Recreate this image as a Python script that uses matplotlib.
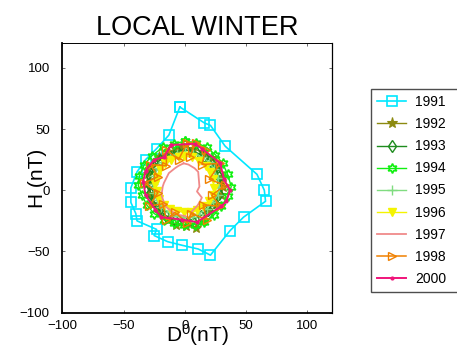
import matplotlib
matplotlib.use("Agg")
import matplotlib.pyplot as plt

plt.rcParams['font.family'] = ['Liberation Sans', 'DejaVu Sans']
plt.rcParams['mathtext.fontset'] = 'custom'
plt.rcParams['mathtext.rm'] = 'Liberation Sans'
plt.rcParams['mathtext.it'] = 'Liberation Sans:italic'

# ---------------- data (nT) ----------------
years = ['1991', '1992', '1993', '1994', '1995', '1996', '1997', '1998', '2000']

d_1991 = [-4, 16, 21, 33, 59, 65, 66, 48, 37, 21, 11, -2, -14, -25, -23, -39, -40, -44, -44, -39, -32, -23, -13, -4]
h_1991 = [68, 55, 53, 36, 13, 0, -9, -22, -33, -53, -48, -45, -42, -37, -32, -25, -19, -10, 2, 15, 25, 34, 45, 68]

d_1992 = [-2, 7, 15, 22, 27, 31, 31, 30, 26, 21, 15, 9, 1, -7, -14, -21, -26, -29, -31, -30, -27, -21, -14, -7, -2]
h_1992 = [35, 34, 31, 26, 19, 11, 3, -4, -11, -18, -25, -31, -29, -28, -24, -18, -11, -3, 5, 13, 20, 27, 31, 34, 35]

d_1993 = [1, 9, 16, 21, 25, 28, 29, 28, 24, 19, 13, 6, -1, -8, -15, -21, -25, -28, -29, -28, -25, -20, -13, -6, 1]
h_1993 = [33, 31, 28, 24, 18, 11, 4, -3, -10, -16, -21, -24, -25, -24, -21, -16, -9, -2, 5, 12, 19, 25, 29, 32, 33]

d_1994 = [0, 9, 18, 25, 31, 35, 38, 35, 30, 24, 16, 8, -1, -9, -17, -25, -31, -35, -38, -37, -33, -27, -18, -9, 0]
h_1994 = [40, 39, 35, 29, 22, 13, 3, -5, -13, -20, -26, -28, -28, -27, -24, -19, -12, -4, 4, 12, 21, 28, 35, 38, 40]

d_1995 = [0, 7, 14, 20, 24, 27, 28, 27, 23, 18, 12, 6, -1, -7, -13, -19, -23, -25, -26, -25, -22, -18, -12, -6, 0]
h_1995 = [31, 30, 27, 23, 17, 10, 3, -4, -10, -15, -19, -22, -22, -21, -18, -14, -8, -2, 5, 12, 18, 23, 27, 30, 31]

d_1996 = [-1, 6, 12, 17, 21, 23, 24, 23, 20, 15, 10, 5, -1, -6, -12, -17, -21, -23, -24, -23, -20, -16, -11, -5, -1]
h_1996 = [28, 27, 24, 20, 15, 9, 2, -4, -9, -13, -16, -18, -18, -17, -15, -12, -7, -1, 5, 11, 17, 22, 25, 27, 28]

d_1997 = [-1, 3, 8, 11, 12, 10, 14, 12, 10, 6, 4, 0, -6, -11, -16, -19, -18, -17, -13, -8, -5, -1]
h_1997 = [22, 21, 18, 15, 3, -1, -6, -10, -13, -17, -23, -21, -20, -17, -13, -4, 3, 6, 14, 18, 20, 22]

d_1998 = [2, 4, 9, 17, 14, 29, 20, 33, 22, 29, 15, 18, 5, 2, -8, -15, -18, -29, -22, -33, -22, -28, -15, -15, -5, 2]
h_1998 = [39, 27, 39, 33, 21, 22, 9, 4, -4, -13, -12, -24, -19, -27, -18, -24, -11, -13, -2, 6, 11, 21, 20, 33, 25, 39]

d_2000 = [-11, 8, 14, 29, 32, 37, 34, 30, 10, -2, -19, -24, -32, -34, -32, -25, -17, -11]
h_2000 = [37, 38, 34, 22, 9, 0, -9, -13, -26, -24, -22, -16, -4, 7, 16, 25, 27, 37]

xticks = [-100, -50, 0, 50, 100]
yticks = [-100, -50, 0, 50, 100]

series = [
    (d_1991, h_1991, dict(color='#00e8ff', marker='s', ms=6.5, mfc='none', mew=1.2, lw=1.2)),
    (d_1992, h_1992, dict(color='#8c8a10', marker='*', ms=8, mfc='#8c8a10', mew=0.8, lw=1.0)),
    (d_1993, h_1993, dict(color='#1e8c1e', marker='d', ms=6, mfc='none', mew=1.0, lw=1.0)),
    (d_1994, h_1994, dict(color='#10f010', marker=(6, 1, 0), ms=7, mfc='none', mew=1.2, lw=1.0)),
    (d_1995, h_1995, dict(color='#80dc80', marker='+', ms=7, mew=1.0, lw=1.0)),
    (d_1996, h_1996, dict(color='#f4f400', marker='v', ms=6, mfc='#f4f400', mew=1.0, lw=1.0)),
    (d_1997, h_1997, dict(color='#f08a8a', marker='None', lw=1.3)),
    (d_1998, h_1998, dict(color='#f08000', marker='>', ms=6, mfc='none', mew=1.0, lw=1.1)),
    (d_2000, h_2000, dict(color='#f0147a', marker='.', ms=4, lw=1.4)),
]

fig = plt.figure(figsize=(4.57, 3.61), dpi=100)
ax = fig.add_axes([0.1364, 0.1339, 0.5893, 0.746])

handles = []
for (dx, hy, st), yr in zip(series, years):
    ln, = ax.plot(dx, hy, label=yr, **st)
    handles.append(ln)

ax.set_xlim(-100, 120)
ax.set_ylim(-100, 120)
ax.set_xticks(xticks)
ax.set_yticks(yticks)
ax.tick_params(direction='in', length=2, width=0.6, color='#555555',
               top=True, right=True, labelsize=9.5)
ax.tick_params(axis='y', pad=9)
ax.tick_params(axis='x', pad=5)
ax.spines['left'].set_linewidth(1.3)
ax.spines['bottom'].set_linewidth(1.3)
ax.spines['top'].set_linewidth(0.7)
ax.spines['right'].set_linewidth(0.9)

ax.set_title('LOCAL WINTER', fontsize=19.5, pad=6)
ax.set_xlabel(r'D$^\mathrm{0}$(nT)', fontsize=15, va='center')
ax.xaxis.set_label_coords(0.5, -0.082)
ax.set_ylabel('H (nT)', fontsize=15, va='center')
ax.yaxis.set_label_coords(-0.094, 0.5)

leg_top = 1 - 89 / 361
leg_bot = 1 - 295 / 361
leg = fig.legend(handles=handles, loc='upper left',
                 bbox_to_anchor=(371 / 457, leg_bot, 0.3, leg_top - leg_bot), mode='expand',
                 frameon=True, fancybox=False, fontsize=10, handlelength=2.1,
                 handletextpad=0.6, labelspacing=0.58, borderpad=0.45, borderaxespad=0)
leg.get_frame().set_edgecolor('#222222')
leg.get_frame().set_linewidth(1.0)

fig.savefig('out.png', dpi=100)
